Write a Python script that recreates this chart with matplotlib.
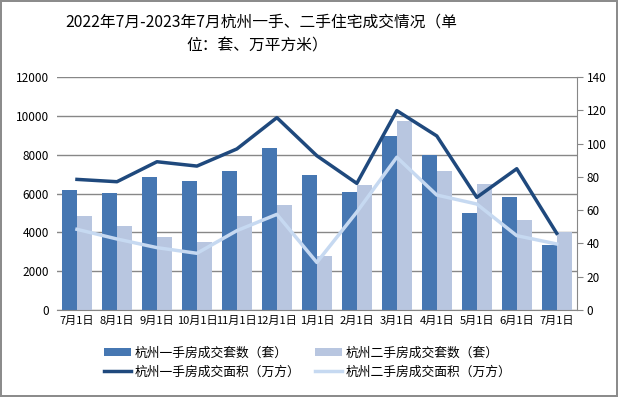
import matplotlib
matplotlib.use("Agg")
import matplotlib.pyplot as plt
import numpy as np

plt.rcParams["font.family"] = ["Noto Sans CJK SC", "DejaVu Sans"]

DARK_BAR = "#4677b2"
LIGHT_BAR = "#b8c6e0"
DARK_LINE = "#1f497d"
LIGHT_LINE = "#c6d9f1"
GRID = "#878787"

months = ["7月1日", "8月1日", "9月1日", "10月1日", "11月1日", "12月1日", "1月1日",
          "2月1日", "3月1日", "4月1日", "5月1日", "6月1日", "7月1日"]

# 成交套数 (套)
new_units = [6160, 6010, 6840, 6640, 7150, 8330, 6940, 6070, 8950, 7990, 4990, 5810, 3340]
resale_units = [4840, 4330, 3760, 3500, 4840, 5400, 2780, 6440, 9730, 7150, 6480, 4630, 4010]

# 成交面积 (万方)
new_area = [78.5, 77.1, 89.1, 86.5, 96.8, 115.6, 92.7, 76.1, 119.8, 104.6, 67.7, 84.9, 46.1]
resale_area = [48.5, 42.7, 37.5, 34.1, 47.7, 57.5, 28.6, 58.9, 91.8, 69.1, 63.7, 44.7, 39.7]

fig = plt.figure(figsize=(6.18, 3.97), dpi=100)
fig.patch.set_edgecolor("#8c8c8c")
fig.patch.set_linewidth(1.5)

ax = fig.add_axes([0.0922, 0.219, 0.841, 0.587])
x = np.arange(len(months))
w = 0.375

b1 = ax.bar(x - w / 2, new_units, width=w, color=DARK_BAR, zorder=2,
            label="杭州一手房成交套数（套）")
b2 = ax.bar(x + w / 2, resale_units, width=w, color=LIGHT_BAR, zorder=2,
            label="杭州二手房成交套数（套）")

ax.set_ylim(0, 12000)
ax.set_yticks(np.arange(0, 12001, 2000))
ax.set_xlim(-0.5, len(months) - 0.5)
ax.set_xticks(x)
ax.set_xticklabels(months, fontsize=8)
ax.tick_params(axis="x", length=0, pad=4)
ax.tick_params(axis="y", length=0, pad=6, labelsize=8.5)
ax.yaxis.grid(True, color=GRID, linewidth=1, zorder=0)
ax.set_axisbelow(True)
for s in ["top", "left", "right"]:
    ax.spines[s].set_visible(False)
ax.spines["bottom"].set_color(GRID)

ax2 = ax.twinx()
l1, = ax2.plot(x, new_area, color=DARK_LINE, linewidth=2.5, zorder=4,
               label="杭州一手房成交面积（万方）")
l2, = ax2.plot(x, resale_area, color=LIGHT_LINE, linewidth=2.5, zorder=3,
               label="杭州二手房成交面积（万方）")
ax2.set_ylim(0, 140)
ax2.set_yticks(np.arange(0, 141, 20))
ax2.tick_params(axis="y", length=4, color=GRID, pad=3, labelsize=8.5)
for s in ["top", "left", "bottom"]:
    ax2.spines[s].set_visible(False)
ax2.spines["right"].set_color(GRID)

fig.text(0.423, 0.945, "2022年7月-2023年7月杭州一手、二手住宅成交情况（单",
         ha="center", va="center", fontsize=11.3)
fig.text(0.416, 0.884, "位：套、万平方米）", ha="center", va="center", fontsize=11.3)

# ncol fills column by column, so interleave to get bars on row 1, lines on row 2
handles = [b1, l1, b2, l2]
fig.legend(handles, [h.get_label() for h in handles],
           ncol=2, loc="center", bbox_to_anchor=(0.498, 0.087), frameon=False,
           fontsize=9.2, handlelength=2.1, handleheight=0.55, columnspacing=1.1,
           handletextpad=0.3, labelspacing=0.45)

fig.savefig("out.png", dpi=100)
